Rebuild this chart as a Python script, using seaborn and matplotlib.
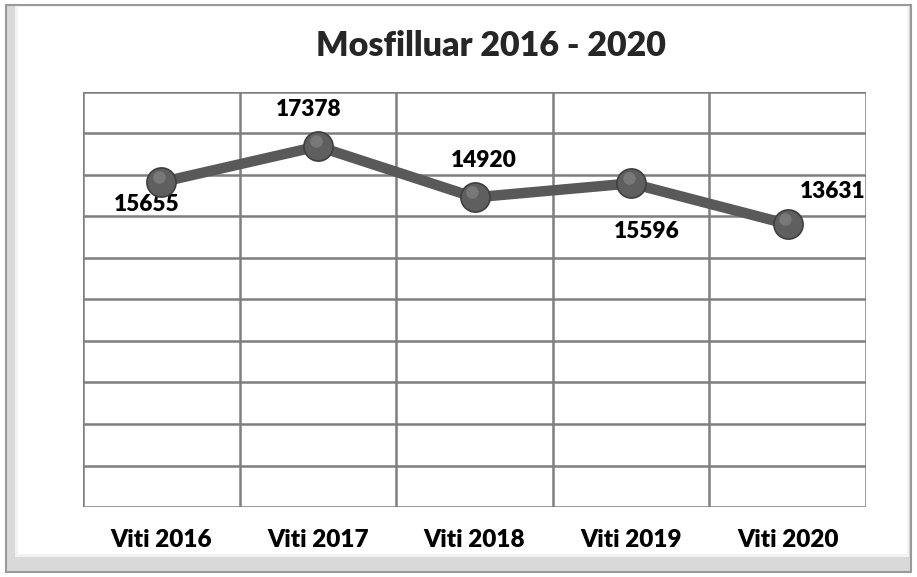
import matplotlib.pyplot as plt
import matplotlib.patches as mpatches
import seaborn as sns
import pandas as pd

# data
years = ["Viti 2016", "Viti 2017", "Viti 2018", "Viti 2019", "Viti 2020"]
values = [15655, 17378, 14920, 15596, 13631]
title = "Mosfilluar 2016 - 2020"

df = pd.DataFrame({"viti": years, "numri": values})

sns.set_style("white")
plt.rcParams['font.family'] = ['Lato', 'DejaVu Sans']

fig = plt.figure(figsize=(9.17, 5.77), dpi=100)

# bevelled frame around the chart
fig.patches.append(mpatches.Rectangle((0.006, 0.008), 0.988, 0.984, transform=fig.transFigure,
                                      facecolor="#d9d9d9", edgecolor="#9a9a9a", lw=1.5, zorder=-10))
fig.patches.append(mpatches.Rectangle((0.016, 0.034), 0.975, 0.955, transform=fig.transFigure,
                                      facecolor="#f2f2f2", edgecolor="none", zorder=-9))
fig.patches.append(mpatches.Rectangle((0.020, 0.040), 0.969, 0.948, transform=fig.transFigure,
                                      facecolor="white", edgecolor="none", zorder=-8))

ax = fig.add_axes([0.0905, 0.1213, 0.854, 0.7193])
ax.set_facecolor("none")

x = list(range(len(years)))
df["x"] = x
sns.lineplot(data=df, x="x", y="numri", ax=ax, color="#595959", linewidth=7.5,
             marker="o", markersize=21, markerfacecolor="#5f5f5f",
             markeredgecolor="#3f3f3f", markeredgewidth=1.2, zorder=3)
# small highlight on the balls
ax.plot(df["x"] - 0.015, df["numri"] + 250, "o", ms=9, color="#8a8a8a", alpha=0.6,
        mec="none", zorder=4)

ax.set_xlim(-0.5, len(years) - 0.5)
ax.set_ylim(0, 20000)
ax.set_yticks(range(0, 20001, 2000))
ax.set_yticklabels([])
ax.tick_params(axis="y", length=0)
ax.set_xticks(x)
ax.set_xticklabels(years, fontsize=17.5, fontweight="heavy", color="black")
ax.set_xticks([i - 0.5 for i in range(len(years) + 1)], minor=True)
ax.tick_params(axis="x", which="major", length=0, pad=16)
ax.tick_params(axis="x", which="minor", length=6, width=1.8, color="#7f7f7f")
ax.grid(True, which="major", axis="y", color="#7f7f7f", lw=1.8)
ax.grid(True, which="minor", axis="x", color="#7f7f7f", lw=1.8)
for s in ax.spines.values():
    s.set_visible(False)
ax.set_xlabel("")
ax.set_ylabel("")

# value labels (label placement as in the original)
offsets = [(-15, -22), (-9, 37), (9, 37), (16, -48), (45, 33)]
for xi, v, (dx, dy) in zip(x, values, offsets):
    ax.annotate(str(v), (xi, v), xytext=(dx, dy), textcoords="offset pixels",
                ha="center", va="center", fontsize=16.3, fontweight="heavy", color="black",
                zorder=2)

fig.text(0.535, 0.920, title, ha="center", va="center", fontsize=24.5, fontweight="heavy")

fig.savefig("out.png", dpi=100)
